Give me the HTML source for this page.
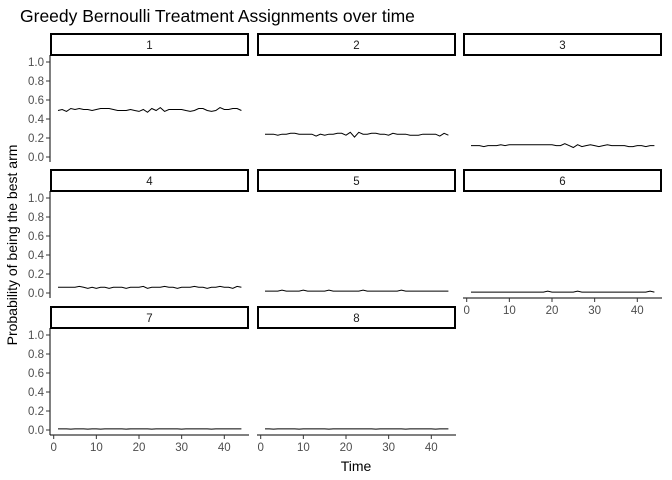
<!DOCTYPE html>
<html><head><meta charset="utf-8"><style>
body{margin:0;background:#fff;}
svg{display:block;font-family:"Liberation Sans",sans-serif;}
</style></head><body>
<svg id="chart" width="672" height="480" viewBox="0 0 672 480" xmlns="http://www.w3.org/2000/svg">
<text x="20" y="22" font-size="17.5" fill="#000">Greedy Bernoulli Treatment Assignments over time</text>
<text transform="translate(17,245) rotate(-90)" text-anchor="middle" font-size="14" fill="#000">Probability of being the best arm</text>
<text x="356" y="471" text-anchor="middle" font-size="14" fill="#000">Time</text>
<g id="panels"></g>
</svg>
<script>
const panelLabels = ["1","2","3","4","5","6","7","8"];
const timeValues = [1,2,3,4,5,6,7,8,9,10,11,12,13,14,15,16,17,18,19,20,21,22,23,24,25,26,27,28,29,30,31,32,33,34,35,36,37,38,39,40,41,42,43,44];
const arm1 = [0.49,0.50,0.48,0.51,0.50,0.51,0.50,0.50,0.49,0.50,0.51,0.51,0.51,0.50,0.49,0.49,0.49,0.50,0.49,0.48,0.50,0.47,0.51,0.49,0.52,0.48,0.50,0.50,0.50,0.50,0.49,0.48,0.49,0.51,0.51,0.49,0.48,0.49,0.52,0.50,0.50,0.51,0.51,0.49];
const arm2 = [0.24,0.24,0.24,0.23,0.24,0.24,0.25,0.25,0.24,0.24,0.24,0.24,0.22,0.24,0.23,0.24,0.24,0.25,0.25,0.23,0.26,0.21,0.26,0.24,0.24,0.25,0.25,0.24,0.24,0.23,0.25,0.24,0.24,0.24,0.23,0.23,0.23,0.24,0.24,0.24,0.24,0.22,0.25,0.23];
const arm3 = [0.12,0.12,0.12,0.11,0.12,0.12,0.12,0.13,0.12,0.13,0.13,0.13,0.13,0.13,0.13,0.13,0.13,0.13,0.13,0.13,0.12,0.12,0.14,0.12,0.10,0.13,0.11,0.12,0.13,0.12,0.11,0.12,0.13,0.12,0.12,0.12,0.12,0.11,0.11,0.12,0.12,0.11,0.12,0.12];
const arm4 = [0.06,0.06,0.06,0.06,0.06,0.07,0.06,0.05,0.06,0.05,0.06,0.06,0.05,0.06,0.06,0.06,0.05,0.06,0.06,0.06,0.07,0.05,0.06,0.06,0.06,0.07,0.06,0.06,0.05,0.06,0.06,0.06,0.07,0.06,0.06,0.05,0.06,0.06,0.07,0.06,0.06,0.05,0.07,0.06];
const arm5 = [0.02,0.02,0.02,0.02,0.03,0.02,0.02,0.02,0.02,0.03,0.02,0.02,0.02,0.02,0.02,0.03,0.02,0.02,0.02,0.02,0.02,0.02,0.02,0.03,0.02,0.02,0.02,0.02,0.02,0.02,0.02,0.02,0.03,0.02,0.02,0.02,0.02,0.02,0.02,0.02,0.02,0.02,0.02,0.02];
const arm6 = [0.01,0.01,0.01,0.01,0.01,0.01,0.01,0.01,0.01,0.01,0.01,0.01,0.01,0.01,0.01,0.01,0.01,0.01,0.02,0.01,0.01,0.01,0.01,0.01,0.01,0.02,0.01,0.01,0.01,0.01,0.01,0.01,0.01,0.01,0.01,0.01,0.01,0.01,0.01,0.01,0.01,0.01,0.02,0.01];
const arm7 = [0.012,0.012,0.012,0.010,0.012,0.012,0.012,0.010,0.012,0.012,0.010,0.012,0.012,0.012,0.012,0.012,0.010,0.012,0.012,0.012,0.012,0.012,0.010,0.012,0.012,0.012,0.012,0.012,0.012,0.010,0.012,0.012,0.012,0.012,0.012,0.012,0.010,0.012,0.012,0.012,0.012,0.012,0.012,0.012];
const arm8 = [0.012,0.012,0.010,0.012,0.012,0.012,0.012,0.012,0.010,0.012,0.012,0.012,0.012,0.012,0.012,0.010,0.012,0.012,0.012,0.012,0.012,0.012,0.012,0.012,0.012,0.012,0.010,0.012,0.012,0.012,0.012,0.012,0.012,0.010,0.012,0.012,0.012,0.012,0.012,0.012,0.010,0.012,0.012,0.012];
const seriesValues = [arm1,arm2,arm3,arm4,arm5,arm6,arm7,arm8];
const yTicks = [0,0.2,0.4,0.6,0.8,1.0];
const yTickLabels = ["0.0","0.2","0.4","0.6","0.8","1.0"];
const xTicks = [0,10,20,30,40];

const NS="http://www.w3.org/2000/svg";
const g=document.getElementById('panels');
const colLeft=[50,257,463], colW=199;
const rowTop=[33,169,306];
function mk(t,a,parent){const e=document.createElementNS(NS,t);for(const k in a)e.setAttribute(k,a[k]);(parent||g).appendChild(e);return e;}
panelLabels.forEach((lab,i)=>{
  const r=Math.floor(i/3), c=i%3;
  const L=colLeft[c], T=rowTop[r];
  const y0=T+124, y1=T+29;
  const yS=v=>y0-(v)*(y0-y1);
  const xS=v=>L+3.7+v*4.265;
  const pg=mk('g',{});
  
  
  const strip=mk('rect',{x:L+1,y:T+1,width:colW-2,height:21,fill:'#fff',stroke:'#000','stroke-width':2},pg);
  
  
  const st=mk('text',{x:L+colW/2,y:T+16,'text-anchor':'middle','font-size':11.5,fill:'#1a1a1a'},pg);
  st.textContent=lab;
  
  
  const bottom=y0+5;
  if(c===0){
    const ya=mk('line',{x1:L,x2:L,y1:T+22,y2:bottom,stroke:'#000','stroke-width':1},pg);
    
    
    yTicks.forEach((v,k)=>{
      mk('line',{x1:L-4,x2:L,y1:yS(v),y2:yS(v),stroke:'#333'},pg);
      const t=mk('text',{x:L-6,y:yS(v)+4,'text-anchor':'end','font-size':11.5,fill:'#4d4d4d'},pg);
      t.textContent=yTickLabels[k];
      
      
    });
  }
  if(r===2 || (r===1&&c===2)){
    const xa=mk('line',{x1:L,x2:L+colW,y1:bottom,y2:bottom,stroke:'#000','stroke-width':1},pg);
    
    
    xTicks.forEach(v=>{
      mk('line',{x1:xS(v),x2:xS(v),y1:bottom,y2:bottom+4,stroke:'#333'},pg);
      const t=mk('text',{x:xS(v),y:bottom+16,'text-anchor':'middle','font-size':11.5,fill:'#4d4d4d'},pg);
      t.textContent=v;
      
      
    });
  }
  const pts=seriesValues[i].map((v,k)=>xS(timeValues[k]).toFixed(1)+','+yS(v).toFixed(1)).join(' ');
  const ln=mk('polyline',{points:pts,fill:'none',stroke:'#000','stroke-width':1},pg);
  
  
});
</script>
</body></html>
